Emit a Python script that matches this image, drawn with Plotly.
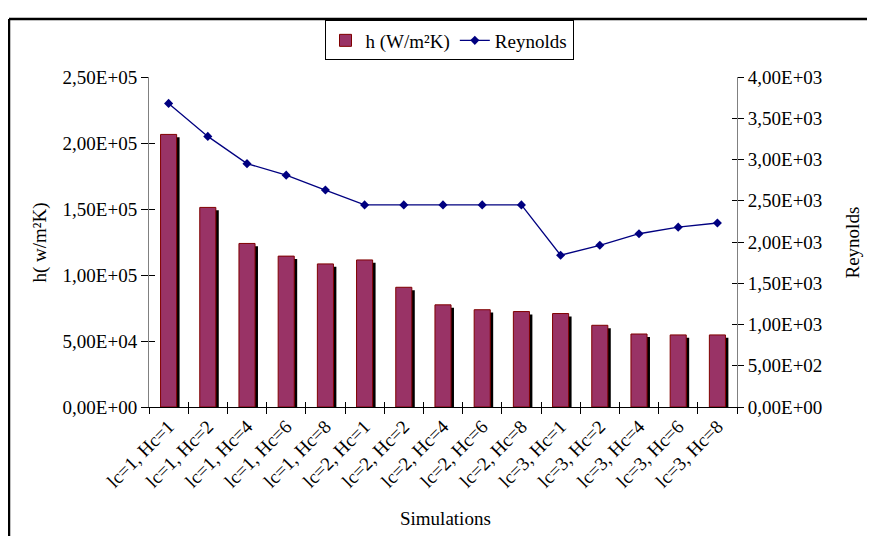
import plotly.graph_objects as go

categories = ["lc=1, Hc=1", "lc=1, Hc=2", "lc=1, Hc=4", "lc=1, Hc=6", "lc=1, Hc=8",
              "lc=2, Hc=1", "lc=2, Hc=2", "lc=2, Hc=4", "lc=2, Hc=6", "lc=2, Hc=8",
              "lc=3, Hc=1", "lc=3, Hc=2", "lc=3, Hc=4", "lc=3, Hc=6", "lc=3, Hc=8"]
h_values = [206500, 151200, 123900, 114300, 108400, 111400, 90700, 77400,
            73700, 72300, 70800, 61900, 55300, 54600, 54600]
reynolds = [3680, 3280, 2950, 2810, 2630, 2450, 2450, 2450, 2450, 2450,
            1840, 1960, 2100, 2180, 2230]

left_tickvals = [0, 50000, 100000, 150000, 200000, 250000]
left_ticktext = ["0,00E+00", "5,00E+04", "1,00E+05", "1,50E+05", "2,00E+05", "2,50E+05"]
right_tickvals = [0, 500, 1000, 1500, 2000, 2500, 3000, 3500, 4000]
right_ticktext = ["0,00E+00", "5,00E+02", "1,00E+03", "1,50E+03", "2,00E+03",
                  "2,50E+03", "3,00E+03", "3,50E+03", "4,00E+03"]

FONT = "Liberation Serif"
FS = 19
BW = 0.41
shadow_drop = 2200

W, H = 859, 528
OFF = 8  # page body margin
L, R, T, B = 149 - OFF, 737 - OFF, 68 - OFF, 407 - OFF
PW, PH = R - L, B - T

def px_x(x):
    return (x - OFF - L) / PW

def px_y(y):
    return (B - (y - OFF)) / PH

fig = go.Figure()
fig.add_trace(go.Bar(
    x=categories, y=[v - shadow_drop for v in h_values], width=BW, offset=-BW / 2 + 0.075,
    marker=dict(color="black", line=dict(width=0)), showlegend=False, hoverinfo="skip"))
fig.add_trace(go.Bar(
    x=categories, y=h_values, width=BW, offset=-BW / 2, name="h (W/m²K)",
    marker=dict(color="#993366", line=dict(color="#800000", width=1))))
fig.add_trace(go.Scatter(
    x=categories, y=reynolds, name="Reynolds", yaxis="y2", mode="lines+markers",
    line=dict(color="#000080", width=1.3),
    marker=dict(symbol="diamond", size=7, color="#000080")))
# invisible helper traces so the inner tick axes render
fig.add_trace(go.Scatter(
    x=categories, y=h_values, xaxis="x2", yaxis="y3", mode="markers",
    marker=dict(opacity=0), showlegend=False, hoverinfo="skip"))
fig.add_trace(go.Scatter(
    x=categories, y=reynolds, yaxis="y4", mode="markers",
    marker=dict(opacity=0), showlegend=False, hoverinfo="skip"))

common = dict(showgrid=False, zeroline=False, automargin=False)

fig.update_layout(
    width=W, height=H,
    margin=dict(l=L, r=W - R, t=T, b=H - B),
    paper_bgcolor="white", plot_bgcolor="white",
    barmode="overlay",
    font=dict(family=FONT, size=FS, color="black"),
    showlegend=True,
    legend=dict(orientation="h", x=px_x(449), xanchor="center", y=px_y(30.5), yanchor="middle",
                bordercolor="black", borderwidth=1, bgcolor="white",
                font=dict(family=FONT, size=FS), itemwidth=30, tracegroupgap=0),
    xaxis=dict(
        type="category", tickangle=-45, showline=True, linecolor="black", linewidth=1,
        ticks="outside", ticklen=6, tickcolor="black", tickson="boundaries",
        range=[-0.5, len(categories) - 0.5],
        tickfont=dict(family=FONT, size=FS), **common),
    xaxis2=dict(
        type="category", overlaying="x", side="bottom", anchor="y",
        categoryarray=categories, range=[-0.5, len(categories) - 0.5],
        ticks="inside", ticklen=5, tickcolor="black", tickson="boundaries",
        showticklabels=False, showline=False, **common),
    yaxis=dict(
        range=[0, 250000], tickvals=left_tickvals, ticktext=left_ticktext,
        showline=True, linecolor="#808080", linewidth=1, ticks="outside", ticklen=7,
        tickcolor="black", tickfont=dict(family=FONT, size=FS), **common),
    yaxis3=dict(
        range=[0, 250000], tickvals=left_tickvals, overlaying="y", side="left",
        anchor="x", showticklabels=False, showline=False,
        ticks="inside", ticklen=6, tickcolor="black", **common),
    yaxis2=dict(
        range=[0, 4000], tickvals=right_tickvals, ticktext=right_ticktext,
        overlaying="y", side="right",
        showline=True, linecolor="#808080", linewidth=1, ticks="outside", ticklen=6,
        tickcolor="black", tickfont=dict(family=FONT, size=FS), **common),
    yaxis4=dict(
        range=[0, 4000], tickvals=right_tickvals, overlaying="y", side="right",
        anchor="x", showticklabels=False, showline=False,
        ticks="inside", ticklen=5, tickcolor="black", **common),
)

fig.add_annotation(text="Simulations", xref="paper", yref="paper",
                   x=px_x(445), y=px_y(522), xanchor="center", yanchor="middle",
                   showarrow=False, font=dict(family=FONT, size=FS))
fig.add_annotation(text="h( w/m²K)", xref="paper", yref="paper",
                   x=px_x(40), y=px_y(238), xanchor="center", yanchor="middle",
                   textangle=-90, showarrow=False, font=dict(family=FONT, size=FS))
fig.add_annotation(text="Reynolds", xref="paper", yref="paper",
                   x=px_x(852), y=px_y(238), xanchor="center", yanchor="middle",
                   textangle=-90, showarrow=False, font=dict(family=FONT, size=FS))

# outer frame: only the left and top edges are visible in the reference
fig.add_shape(type="line", xref="paper", yref="paper",
              x0=px_x(9), x1=px_x(9), y0=px_y(8.5), y1=px_y(600),
              line=dict(color="black", width=2.5), layer="below")
fig.add_shape(type="line", xref="paper", yref="paper",
              x0=px_x(9), x1=px_x(920), y0=px_y(8.5), y1=px_y(8.5),
              line=dict(color="black", width=2.5), layer="below")

fig.write_html("out.html")
